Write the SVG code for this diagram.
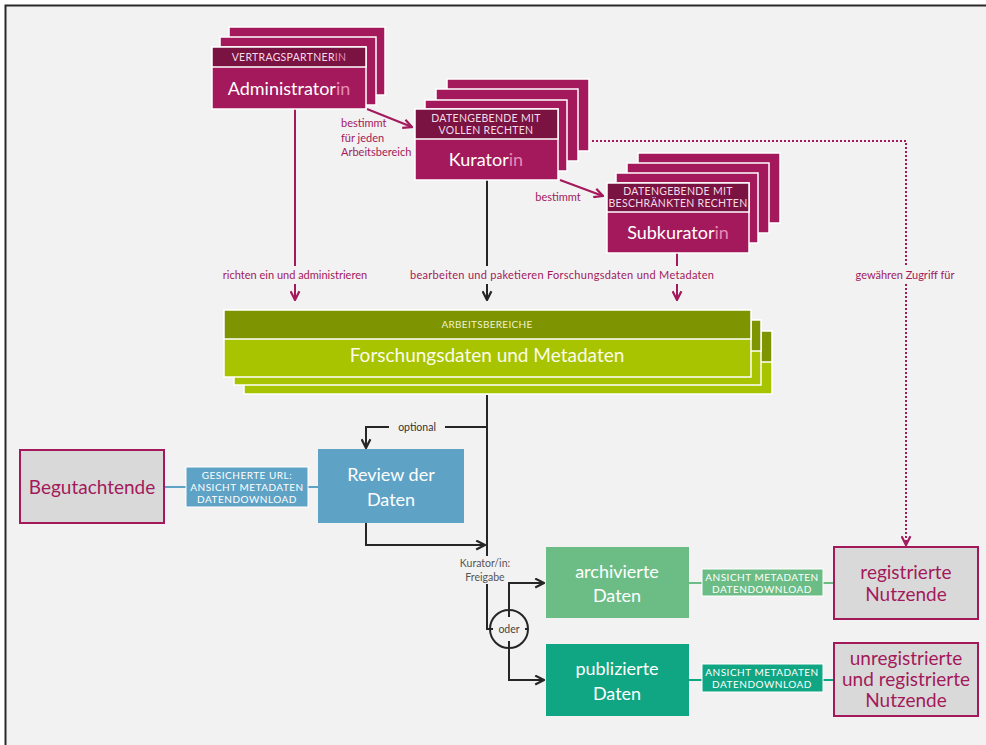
<svg xmlns="http://www.w3.org/2000/svg" width="986" height="745" viewBox="0 0 986 745">
<style>
text{font-family:Lato,"Open Sans","Liberation Sans",sans-serif}
.stk{fill:#a3195b;stroke:#fff;stroke-width:1.5}
.hdr{fill:#7a1242;stroke:#fff;stroke-width:1.5}
.olv{fill:#7e9400;stroke:#fff;stroke-width:1.5}
.lim{fill:#a8c400;stroke:#fff;stroke-width:1.5}
.big{fill:#fff;font-size:18px;text-anchor:middle}
.cap{fill:#f3dbe7;font-size:10.5px;text-anchor:middle;letter-spacing:0.3px}
.pink{fill:#e78ab5}
.lbl{fill:#a3195b;font-size:11px}
.mid{text-anchor:middle}
.ml{stroke:#a3195b;stroke-width:2;fill:none}
.kl{stroke:#262626;stroke-width:2;fill:none}
.gray{fill:#d9d9d9;stroke:#a3195b;stroke-width:2}
.gt{fill:#a3195b;font-size:19px;text-anchor:middle}
.tag{fill:#fff;font-size:10px;text-anchor:middle;letter-spacing:0.5px}
</style>
<defs>
<marker id="am" viewBox="0 0 10 10" refX="9" refY="5" markerWidth="11" markerHeight="11" markerUnits="userSpaceOnUse" orient="auto"><path d="M1,1 L9,5 L1,9" fill="none" stroke="#a3195b" stroke-width="2"/></marker>
<marker id="ak" viewBox="0 0 10 10" refX="9" refY="5" markerWidth="11" markerHeight="11" markerUnits="userSpaceOnUse" orient="auto"><path d="M1,1 L9,5 L1,9" fill="none" stroke="#262626" stroke-width="2"/></marker>
</defs>
<rect x="0" y="0" width="986" height="745" fill="#fff"/>
<rect x="5.5" y="5.5" width="1000" height="760" fill="#f2f2f2" stroke="#2a2a2a" stroke-width="2"/>

<g id="connectors">
<polyline class="ml" points="367,109 412,127" marker-end="url(#am)"/>
<polyline class="ml" points="560,180 603,196" marker-end="url(#am)"/>
<line class="ml" x1="295" y1="109" x2="295" y2="266"/>
<line class="ml" x1="295" y1="284" x2="295" y2="300" marker-end="url(#am)"/>
<line class="kl" x1="487" y1="180" x2="487" y2="266"/>
<line class="kl" x1="487" y1="284" x2="487" y2="300" marker-end="url(#ak)"/>
<line class="ml" x1="677" y1="253" x2="677" y2="266"/>
<line class="ml" x1="677" y1="284" x2="677" y2="300" marker-end="url(#am)"/>
<polyline class="ml" points="592,141 906,141 906,266" stroke-dasharray="2 2"/>
<line class="ml" x1="906" y1="284" x2="906" y2="545" stroke-dasharray="2 2" marker-end="url(#am)"/>
<line class="kl" x1="487" y1="395" x2="487" y2="556"/>
<polyline class="kl" points="487,427 445,427"/>
<polyline class="kl" points="389,427 366,427 366,448" marker-end="url(#ak)"/>
<polyline class="kl" points="366,523 366,545 485,545" marker-end="url(#ak)"/>
<polyline class="kl" points="487,584 487,629 493,629"/>
<line class="kl" x1="525" y1="629" x2="528" y2="629"/>
<circle cx="509" cy="629" r="19" fill="none" stroke="#262626" stroke-width="2"/>
<polyline class="kl" points="509,617 509,583 544,583" marker-end="url(#ak)"/>
<polyline class="kl" points="509,641 509,680 544,680" marker-end="url(#ak)"/>
<line x1="164" y1="487" x2="318" y2="487" stroke="#5ea2c6" stroke-width="2"/>
<line x1="689" y1="583" x2="834" y2="583" stroke="#6cbd85" stroke-width="2"/>
<line x1="689" y1="680" x2="834" y2="680" stroke="#10a683" stroke-width="2"/>
</g>

<g id="administratorin">
<rect class="stk" x="229" y="27" width="156" height="68"/>
<rect class="stk" x="220" y="37" width="156" height="68"/>
<rect class="stk" x="212" y="47" width="154" height="62"/>
<rect class="hdr" x="212" y="47" width="154" height="20"/>
<text class="cap" x="289" y="61">VERTRAGSPARTNER<tspan class="pink">IN</tspan></text>
<text class="big" x="289" y="95" font-size="18.5px">Administrator<tspan class="pink">in</tspan></text>
</g>

<g id="kuratorin">
<rect class="stk" x="447" y="79" width="142" height="72"/>
<rect class="stk" x="436" y="89" width="142" height="72"/>
<rect class="stk" x="425" y="100" width="142" height="71"/>
<rect class="stk" x="415" y="109" width="143" height="71"/>
<rect class="hdr" x="415" y="109" width="143" height="30"/>
<text class="cap" x="486" y="122">DATENGEBENDE MIT</text>
<text class="cap" x="486" y="134">VOLLEN RECHTEN</text>
<text class="big" x="486" y="166">Kurator<tspan class="pink">in</tspan></text>
</g>

<g id="subkuratorin">
<rect class="stk" x="638" y="153" width="142" height="70"/>
<rect class="stk" x="627" y="163" width="142" height="70"/>
<rect class="stk" x="616" y="173" width="142" height="70"/>
<rect class="stk" x="607" y="183" width="142" height="70"/>
<rect class="hdr" x="607" y="183" width="142" height="29"/>
<text class="cap" x="678" y="195">DATENGEBENDE MIT</text>
<text class="cap" x="678" y="207">BESCHRÄNKTEN RECHTEN</text>
<text class="big" x="678" y="239">Subkurator<tspan class="pink">in</tspan></text>
</g>

<g id="labels">
<text class="lbl" x="341" y="127">bestimmt</text>
<text class="lbl" x="341" y="142">für jeden</text>
<text class="lbl" x="341" y="156">Arbeitsbereich</text>
<text class="lbl mid" x="558" y="201">bestimmt</text>
<text class="lbl mid" x="295" y="279">richten ein und administrieren</text>
<text class="lbl" x="410" y="279" textLength="304">bearbeiten und paketieren Forschungsdaten und Metadaten</text>
<text class="lbl mid" x="905" y="279">gewähren Zugriff für</text>
<text class="mid" x="417" y="431" font-size="10.5" fill="#333">optional</text>
<text class="mid" x="485" y="567" font-size="10.5" fill="#555">Kurator/in:</text>
<text class="mid" x="485" y="581" font-size="10.5" fill="#555">Freigabe</text>
<text class="mid" x="509" y="633" font-size="10.5" fill="#444">oder</text>
</g>

<g id="arbeitsbereiche">
<rect class="lim" x="244" y="331" width="528" height="63"/>
<rect class="olv" x="244" y="331" width="528" height="31"/>
<rect class="lim" x="234" y="320" width="527" height="65"/>
<rect class="olv" x="234" y="320" width="527" height="31"/>
<rect class="lim" x="224" y="310" width="527" height="67"/>
<rect class="olv" x="224" y="310" width="527" height="29"/>
<text class="mid" x="487" y="328" font-size="10px" fill="#eef3cc" letter-spacing="0.3">ARBEITSBEREICHE</text>
<text class="mid" x="487" y="362" font-size="19px" fill="#fafbe8">Forschungsdaten und Metadaten</text>
</g>

<g id="begutachtende">
<rect class="gray" x="20" y="450" width="144" height="73"/>
<text class="gt" x="92" y="494" font-size="20px">Begutachtende</text>
</g>

<g id="label-review">
<rect x="186" y="467" width="122" height="40" fill="#5ea2c6" stroke="#fff" stroke-width="1"/>
<text class="tag" x="247" y="479">GESICHERTE URL:</text>
<text class="tag" x="247" y="491">ANSICHT METADATEN</text>
<text class="tag" x="247" y="503">DATENDOWNLOAD</text>
</g>

<g id="review">
<rect x="318" y="449" width="146" height="74" fill="#5ea2c6"/>
<text class="big" x="391" y="481" font-size="19px">Review der</text>
<text class="big" x="391" y="506" font-size="19px">Daten</text>
</g>

<g id="archivierte">
<rect x="546" y="547" width="143" height="71" fill="#6cbd85"/>
<text class="big" x="617" y="578">archivierte</text>
<text class="big" x="617" y="602">Daten</text>
</g>

<g id="label-archiv">
<rect x="702" y="569" width="121" height="27" fill="#6cbd85" stroke="#fff" stroke-width="1"/>
<text class="tag" x="762" y="581">ANSICHT METADATEN</text>
<text class="tag" x="762" y="593">DATENDOWNLOAD</text>
</g>

<g id="registrierte">
<rect class="gray" x="834" y="547" width="144" height="72"/>
<text class="gt" x="906" y="579">registrierte</text>
<text class="gt" x="906" y="601">Nutzende</text>
</g>

<g id="publizierte">
<rect x="546" y="644" width="143" height="72" fill="#10a683"/>
<text class="big" x="617" y="675">publizierte</text>
<text class="big" x="617" y="700">Daten</text>
</g>

<g id="label-publ">
<rect x="702" y="664" width="121" height="28" fill="#10a683" stroke="#fff" stroke-width="1"/>
<text class="tag" x="762" y="676">ANSICHT METADATEN</text>
<text class="tag" x="762" y="688">DATENDOWNLOAD</text>
</g>

<g id="unregistrierte">
<rect class="gray" x="834" y="643" width="144" height="73"/>
<text class="gt" x="906" y="665">unregistrierte</text>
<text class="gt" x="906" y="686">und registrierte</text>
<text class="gt" x="906" y="707">Nutzende</text>
</g>
</svg>
